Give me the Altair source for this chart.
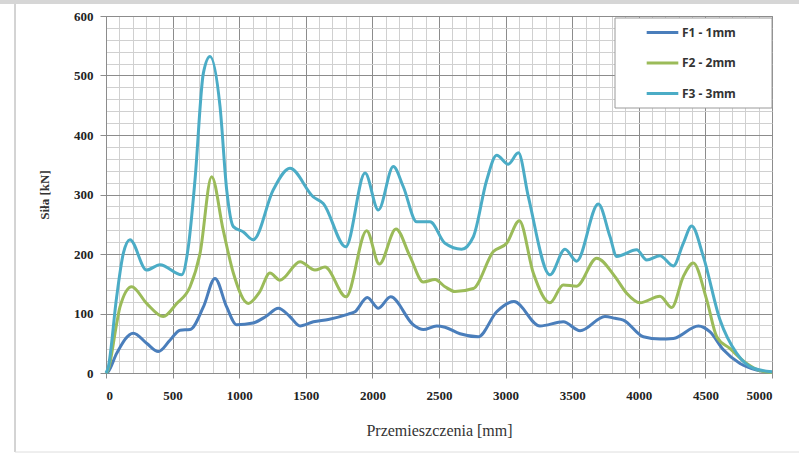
import altair as alt
import pandas as pd

# F1 - 1mm (blue)
f1_x = [0, 15, 80, 205, 305, 393, 480, 556, 631, 731, 818, 906, 981, 1104, 1200, 1294, 1380, 1457, 1557,
        1669, 1819, 1869, 1962, 2045, 2137, 2307, 2382, 2482, 2545, 2658, 2795, 2933, 3063, 3258, 3433,
        3559, 3746, 3821, 3884, 4034, 4159, 4259, 4447, 4535, 4635, 4760, 4885, 5000]
f1_y = [0, 2, 33, 67, 50, 36, 55, 72, 73, 111, 159, 111, 81, 84, 95, 109, 95, 79, 86,
        90, 99, 103, 127, 109, 128, 81, 73, 79, 77, 66, 61, 103, 120, 79, 86,
        71, 95, 92, 89, 61, 57, 58, 79, 69, 39, 16, 5, 1]

# F2 - 2mm (green)
f2_x = [0, 15, 80, 105, 193, 305, 430, 531, 631, 706, 793, 880, 956, 1068, 1150, 1231, 1306, 1457, 1569,
        1644, 1802, 1957, 2052, 2177, 2282, 2382, 2470, 2545, 2620, 2758, 2908, 3008, 3103, 3208, 3333,
        3433, 3533, 3684, 3821, 3909, 4009, 4159, 4247, 4334, 4409, 4510, 4585, 4685, 4810, 4910, 5000]
f2_y = [0, 5, 83, 111, 145, 117, 95, 117, 145, 201, 330, 240, 168, 117, 135, 168, 156, 187, 173,
        178, 128, 239, 183, 242, 196, 153, 157, 145, 137, 142, 204, 218, 256, 168, 118,
        148, 146, 193, 162, 134, 118, 129, 110, 162, 185, 123, 61, 41, 16, 4, 1]

# F3 - 3mm (cyan)
f3_x = [0, 15, 80, 130, 180, 305, 405, 568, 618, 668, 731, 781, 856, 906, 956, 1031, 1106, 1256, 1381,
        1556, 1631, 1800, 1945, 2045, 2157, 2232, 2333, 2433, 2545, 2670, 2758, 2858, 2933, 3020, 3096,
        3171, 3333, 3446, 3533, 3696, 3784, 3834, 3984, 4059, 4159, 4259, 4334, 4397, 4484, 4610, 4735,
        4860, 5000]
f3_y = [0, 8, 128, 201, 224, 173, 182, 165, 212, 324, 504, 532, 448, 308, 246, 237, 224, 308, 344,
        296, 285, 212, 336, 274, 347, 313, 254, 254, 218, 208, 229, 324, 366, 351, 370,
        296, 165, 208, 188, 284, 229, 196, 207, 190, 197, 180, 218, 247, 196, 89, 33,
        8, 2]

series_names = ["F1 - 1mm", "F2 - 2mm", "F3 - 3mm"]
series_colors = ["#4a7ebb", "#9bbb59", "#4bacc6"]

x_ticks = list(range(0, 5001, 100))
y_ticks = list(range(0, 601, 20))

rows = []
for name, xs, ys in zip(series_names, [f1_x, f2_x, f3_x], [f1_y, f2_y, f3_y]):
    for i, (xv, yv) in enumerate(zip(xs, ys)):
        rows.append({"series": name, "x": xv, "y": yv, "order": i})
df = pd.DataFrame(rows)

minor = "#d0d0d0"
major = "#8c8c8c"

x_axis = alt.Axis(
    values=x_ticks,
    grid=True,
    gridColor={"condition": {"test": "datum.value % 500 === 0", "value": major}, "value": minor},
    gridWidth=1,
    labelExpr="datum.value % 500 === 0 ? datum.label : ''",
    format="d",
    tickOpacity={"condition": {"test": "datum.value % 500 === 0", "value": 1}, "value": 0},
    tickColor=major,
    tickSize=5,
    domainColor=major,
    labelFont="Liberation Serif",
    labelFontWeight="bold",
    labelFontSize=13,
    labelColor="#222222",
    labelPadding=11,
    labelAngle=0,
    title="Przemieszczenia [mm]",
    titleFont="Liberation Serif",
    titleFontWeight="normal",
    titleFontSize=16,
    titleColor="#333333",
    titlePadding=20,
)

y_axis = alt.Axis(
    values=y_ticks,
    grid=True,
    gridColor={"condition": {"test": "datum.value % 100 === 0", "value": major}, "value": minor},
    gridWidth=1,
    labelExpr="datum.value % 100 === 0 ? datum.label : ''",
    format="d",
    tickOpacity={"condition": {"test": "datum.value % 100 === 0", "value": 1}, "value": 0},
    tickColor=major,
    tickSize=6,
    domainColor=major,
    labelFont="Liberation Serif",
    labelFontWeight="bold",
    labelFontSize=13,
    labelColor="#222222",
    labelPadding=7,
    title="Siła [kN]",
    titleFont="Liberation Serif",
    titleFontWeight="bold",
    titleFontSize=13,
    titleColor="#333333",
    titlePadding=22,
)

legend = alt.Legend(
    title=None,
    orient="none",
    legendX=509,
    legendY=-1,
    symbolType="stroke",
    symbolSize=1000,
    symbolStrokeWidth=3,
    symbolOffset=30,
    labelOffset=2,
    labelFont="Noto Sans",
    labelFontWeight="bold",
    labelFontSize=12,
    labelColor="#333333",
    labelLimit=300,
    rowPadding=6.5,
    padding=0,
)

lines = alt.Chart(df).mark_line(strokeWidth=3, interpolate="monotone").encode(
    x=alt.X("x:Q", scale=alt.Scale(domain=[0, 5000], nice=False), axis=x_axis),
    y=alt.Y("y:Q", scale=alt.Scale(domain=[0, 600], nice=False), axis=y_axis),
    color=alt.Color("series:N", scale=alt.Scale(domain=series_names, range=series_colors), legend=legend),
    order="order:Q",
)

one = pd.DataFrame({"k": [0]})

legend_box = alt.Chart(one).mark_rect(fill="white", stroke="#9a9a9a", strokeWidth=1).encode(
    x=alt.value(509), x2=alt.value(666), y=alt.value(2), y2=alt.value(92)
)
top_band = alt.Chart(one).mark_rect(fill="#d6d6d6", clip=False).encode(
    x=alt.value(-106), x2=alt.value(693), y=alt.value(-16), y2=alt.value(-12)
)
left_line = alt.Chart(one).mark_rule(color="#a8a8a8", strokeWidth=1).encode(
    x=alt.value(-91), y=alt.value(-12), y2=alt.value(436)
)
bottom_line = alt.Chart(one).mark_rule(color="#dedede", strokeWidth=1).encode(
    x=alt.value(-91), x2=alt.value(693), y=alt.value(436)
)

chart = alt.layer(lines, legend_box, top_band, left_line, bottom_line).properties(
    width=666,
    height=357,
    autosize=alt.AutoSizeParams(type="none"),
    padding={"left": 106, "top": 16, "right": 27, "bottom": 82},
    background="white",
).configure_view(stroke="#8c8c8c", strokeWidth=1)

chart.save("out.html", embed_options={"renderer": "svg", "actions": False})
